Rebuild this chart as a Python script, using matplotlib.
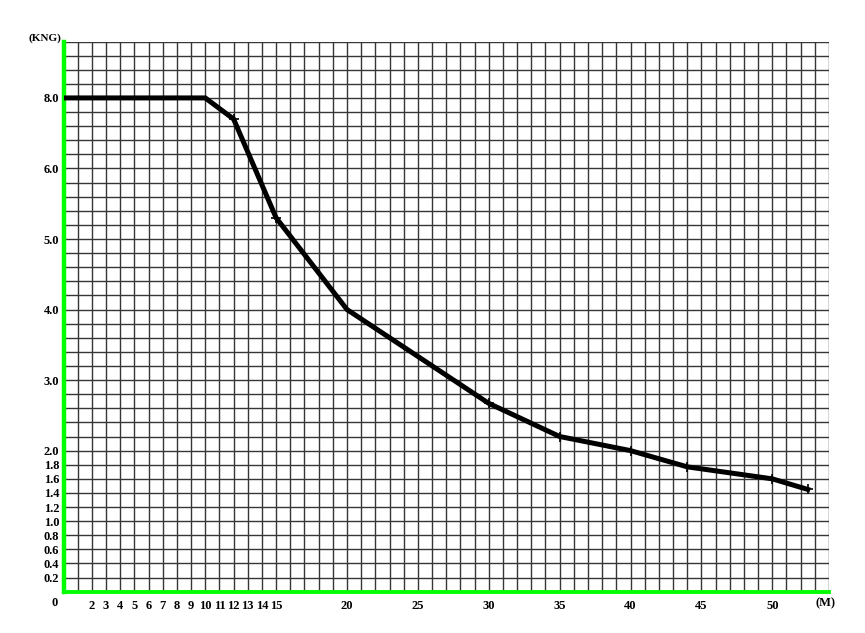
import numpy as np
import matplotlib
matplotlib.use("Agg")
import matplotlib.pyplot as plt

# data
radius = [0, 10, 12, 15, 20, 30, 35, 40, 44, 50, 52.5]
load = [8.0, 8.0, 7.4, 5.3, 4.0, 2.67, 2.2, 2.0, 1.77, 1.6, 1.45]
marker_radius = [12, 15, 30, 35, 40, 44, 50, 52.5]
marker_load = [7.4, 5.3, 2.67, 2.2, 2.0, 1.77, 1.6, 1.45]

x_tick_vals = [2, 3, 4, 5, 6, 7, 8, 9, 10, 11, 12, 13, 14, 15, 20, 25, 30, 35, 40, 45, 50]
y_tick_vals = [0.2, 0.4, 0.6, 0.8, 1.0, 1.2, 1.4, 1.6, 1.8, 2.0, 3.0, 4.0, 5.0, 6.0, 8.0]
y_tick_labels = ["0.2", "0.4", "0.6", "0.8", "1.0", "1.2", "1.4", "1.6", "1.8", "2.0",
                 "3.0", "4.0", "5.0", "6.0", "8.0"]
x_unit = "(M)"
y_unit = "(KNG)"


def fwd(v):
    v = np.asarray(v, dtype=float)
    return np.where(v <= 6, 5 * v, 30 + (v - 6) * 2.5)


def inv(c):
    c = np.asarray(c, dtype=float)
    return np.where(c <= 30, c / 5, 6 + (c - 30) / 2.5)


FONT = dict(family=["Liberation Serif", "DejaVu Serif"], weight="bold", size=9)

fig = plt.figure(figsize=(8.65, 6.33), dpi=100)
ax = fig.add_axes([63.5 / 865, 1 - 591.7 / 633, (829 - 63.5) / 865, (591.7 - 41.5) / 633])
ax.set_yscale("function", functions=(fwd, inv))
ax.set_xlim(0, 54)
ax.set_ylim(0, float(inv(39)))

# grid
for xv in range(0, 55):
    ax.axvline(xv, color="#363636", lw=1.0, zorder=1)
for c in range(0, 40):
    ax.axhline(float(inv(c)), color="#363636", lw=1.0, zorder=1)

for s in ax.spines.values():
    s.set_visible(False)
ax.axvline(0, color="#00FF00", lw=3.2, zorder=2, clip_on=False)
ax.axhline(0, color="#00FF00", lw=2.8, zorder=2, clip_on=False)

ax.plot(radius, load, color="black", lw=3.6, solid_joinstyle="miter", zorder=3)
ax.plot(marker_radius, marker_load, ls="none", marker="+", ms=7, mew=1.2, color="black", zorder=4)

ax.set_xticks(x_tick_vals)
ax.set_xticklabels([str(v) for v in x_tick_vals], fontdict=FONT)
ax.set_yticks(y_tick_vals)
ax.set_yticklabels(y_tick_labels, fontdict=FONT)
ax.yaxis.set_minor_locator(matplotlib.ticker.NullLocator())
ax.xaxis.set_minor_locator(matplotlib.ticker.NullLocator())
ax.tick_params(axis="both", length=0)
ax.tick_params(axis="x", pad=6)
ax.tick_params(axis="y", pad=3)

fig.text(55 / 865, 1 - 603 / 633, "0", ha="center", va="center", fontdict=FONT)
fig.text(825 / 865, 1 - 603 / 633, x_unit, ha="center", va="center", fontdict=FONT)
fig.text(45 / 865, 1 - 38 / 633, y_unit, ha="center", va="center",
         fontdict=dict(FONT, size=8))

fig.savefig("out.png", dpi=100, facecolor="white")
